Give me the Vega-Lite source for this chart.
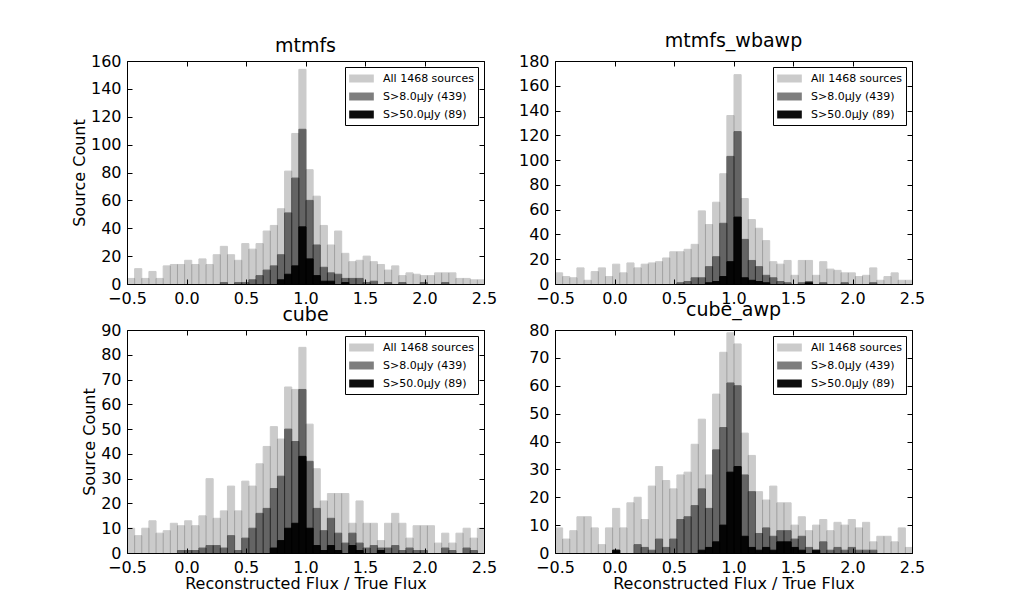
{
  "$schema": "https://vega.github.io/schema/vega-lite/v6.json",
  "background": "white",
  "padding": {"left": 70, "top": 31, "right": 5, "bottom": 5},
  "datasets": {
    "h": [
      {"p":1,"s":"a","x":-0.5,"c":4},{"p":1,"s":"a","x":-0.44,"c":11},{"p":1,"s":"a","x":-0.38,"c":4},{"p":1,"s":"a","x":-0.32,"c":9},{"p":1,"s":"a","x":-0.26,"c":4},
      {"p":1,"s":"a","x":-0.2,"c":13},{"p":1,"s":"a","x":-0.14,"c":14},{"p":1,"s":"a","x":-0.08,"c":14},{"p":1,"s":"a","x":-0.02,"c":17},{"p":1,"s":"a","x":0.04,"c":14},
      {"p":1,"s":"a","x":0.1,"c":18},{"p":1,"s":"a","x":0.16,"c":14},{"p":1,"s":"a","x":0.22,"c":21},{"p":1,"s":"a","x":0.28,"c":27},{"p":1,"s":"a","x":0.34,"c":21},
      {"p":1,"s":"a","x":0.4,"c":17},{"p":1,"s":"a","x":0.46,"c":29},{"p":1,"s":"a","x":0.52,"c":25},{"p":1,"s":"a","x":0.58,"c":29},{"p":1,"s":"a","x":0.64,"c":38},
      {"p":1,"s":"a","x":0.7,"c":42},{"p":1,"s":"a","x":0.76,"c":54},{"p":1,"s":"a","x":0.82,"c":81},{"p":1,"s":"a","x":0.88,"c":108},{"p":1,"s":"a","x":0.94,"c":154},
      {"p":1,"s":"a","x":1,"c":82},{"p":1,"s":"a","x":1.06,"c":63},{"p":1,"s":"a","x":1.12,"c":42},{"p":1,"s":"a","x":1.18,"c":28},{"p":1,"s":"a","x":1.24,"c":38},
      {"p":1,"s":"a","x":1.3,"c":22},{"p":1,"s":"a","x":1.36,"c":16},{"p":1,"s":"a","x":1.42,"c":17},{"p":1,"s":"a","x":1.48,"c":20},{"p":1,"s":"a","x":1.54,"c":16},
      {"p":1,"s":"a","x":1.6,"c":14},{"p":1,"s":"a","x":1.66,"c":10},{"p":1,"s":"a","x":1.72,"c":13},{"p":1,"s":"a","x":1.78,"c":6},{"p":1,"s":"a","x":1.84,"c":8},
      {"p":1,"s":"a","x":1.9,"c":7},{"p":1,"s":"a","x":1.96,"c":6},{"p":1,"s":"a","x":2.02,"c":6},{"p":1,"s":"a","x":2.08,"c":8},{"p":1,"s":"a","x":2.14,"c":8},
      {"p":1,"s":"a","x":2.2,"c":8},{"p":1,"s":"a","x":2.26,"c":4},{"p":1,"s":"a","x":2.32,"c":4},{"p":1,"s":"a","x":2.38,"c":3},{"p":1,"s":"a","x":2.44,"c":3},
      {"p":1,"s":"b","x":0.28,"c":1},{"p":1,"s":"b","x":0.4,"c":1},{"p":1,"s":"b","x":0.46,"c":1},{"p":1,"s":"b","x":0.52,"c":3},{"p":1,"s":"b","x":0.58,"c":6},
      {"p":1,"s":"b","x":0.64,"c":10},{"p":1,"s":"b","x":0.7,"c":13},{"p":1,"s":"b","x":0.76,"c":21},{"p":1,"s":"b","x":0.82,"c":51},{"p":1,"s":"b","x":0.88,"c":76},
      {"p":1,"s":"b","x":0.94,"c":111},{"p":1,"s":"b","x":1,"c":60},{"p":1,"s":"b","x":1.06,"c":28},{"p":1,"s":"b","x":1.12,"c":12},{"p":1,"s":"b","x":1.18,"c":8},
      {"p":1,"s":"b","x":1.24,"c":7},{"p":1,"s":"b","x":1.3,"c":4},{"p":1,"s":"b","x":1.36,"c":4},{"p":1,"s":"b","x":1.42,"c":4},{"p":1,"s":"b","x":1.48,"c":1},
      {"p":1,"s":"b","x":1.54,"c":2},{"p":1,"s":"b","x":1.66,"c":1},{"p":1,"s":"b","x":1.78,"c":1},{"p":1,"s":"b","x":1.96,"c":1},{"p":1,"s":"b","x":2.14,"c":1},
      {"p":1,"s":"c","x":0.76,"c":3},{"p":1,"s":"c","x":0.82,"c":7},{"p":1,"s":"c","x":0.88,"c":13},{"p":1,"s":"c","x":0.94,"c":41},{"p":1,"s":"c","x":1,"c":18},
      {"p":1,"s":"c","x":1.06,"c":6},{"p":1,"s":"c","x":1.12,"c":2},{"p":1,"s":"c","x":1.18,"c":2},{"p":1,"s":"c","x":1.3,"c":1},

      {"p":2,"s":"a","x":-0.5,"c":9},{"p":2,"s":"a","x":-0.44,"c":6},{"p":2,"s":"a","x":-0.38,"c":5},{"p":2,"s":"a","x":-0.32,"c":13},{"p":2,"s":"a","x":-0.26,"c":3},
      {"p":2,"s":"a","x":-0.2,"c":10},{"p":2,"s":"a","x":-0.14,"c":13},{"p":2,"s":"a","x":-0.08,"c":6},{"p":2,"s":"a","x":-0.02,"c":16},{"p":2,"s":"a","x":0.04,"c":9},
      {"p":2,"s":"a","x":0.1,"c":17},{"p":2,"s":"a","x":0.16,"c":13},{"p":2,"s":"a","x":0.22,"c":16},{"p":2,"s":"a","x":0.28,"c":17},{"p":2,"s":"a","x":0.34,"c":18},
      {"p":2,"s":"a","x":0.4,"c":21},{"p":2,"s":"a","x":0.46,"c":26},{"p":2,"s":"a","x":0.52,"c":26},{"p":2,"s":"a","x":0.58,"c":28},{"p":2,"s":"a","x":0.64,"c":32},
      {"p":2,"s":"a","x":0.7,"c":59},{"p":2,"s":"a","x":0.76,"c":48},{"p":2,"s":"a","x":0.82,"c":66},{"p":2,"s":"a","x":0.88,"c":89},{"p":2,"s":"a","x":0.94,"c":136},
      {"p":2,"s":"a","x":1,"c":169},{"p":2,"s":"a","x":1.06,"c":69},{"p":2,"s":"a","x":1.12,"c":52},{"p":2,"s":"a","x":1.18,"c":45},{"p":2,"s":"a","x":1.24,"c":35},
      {"p":2,"s":"a","x":1.3,"c":18},{"p":2,"s":"a","x":1.36,"c":16},{"p":2,"s":"a","x":1.42,"c":19},{"p":2,"s":"a","x":1.48,"c":7},{"p":2,"s":"a","x":1.54,"c":19},
      {"p":2,"s":"a","x":1.6,"c":19},{"p":2,"s":"a","x":1.66,"c":7},{"p":2,"s":"a","x":1.72,"c":18},{"p":2,"s":"a","x":1.78,"c":12},{"p":2,"s":"a","x":1.84,"c":11},
      {"p":2,"s":"a","x":1.9,"c":9},{"p":2,"s":"a","x":1.96,"c":9},{"p":2,"s":"a","x":2.02,"c":6},{"p":2,"s":"a","x":2.08,"c":7},{"p":2,"s":"a","x":2.14,"c":13},
      {"p":2,"s":"a","x":2.2,"c":3},{"p":2,"s":"a","x":2.26,"c":6},{"p":2,"s":"a","x":2.32,"c":9},{"p":2,"s":"a","x":2.38,"c":3},{"p":2,"s":"a","x":2.44,"c":3},
      {"p":2,"s":"b","x":0.52,"c":1},{"p":2,"s":"b","x":0.58,"c":2},{"p":2,"s":"b","x":0.64,"c":5},{"p":2,"s":"b","x":0.7,"c":5},{"p":2,"s":"b","x":0.76,"c":14},
      {"p":2,"s":"b","x":0.82,"c":22},{"p":2,"s":"b","x":0.88,"c":49},{"p":2,"s":"b","x":0.94,"c":103},{"p":2,"s":"b","x":1,"c":123},{"p":2,"s":"b","x":1.06,"c":36},
      {"p":2,"s":"b","x":1.12,"c":19},{"p":2,"s":"b","x":1.18,"c":14},{"p":2,"s":"b","x":1.24,"c":7},{"p":2,"s":"b","x":1.3,"c":5},{"p":2,"s":"b","x":1.36,"c":2},
      {"p":2,"s":"b","x":1.42,"c":1},{"p":2,"s":"b","x":1.54,"c":1},{"p":2,"s":"b","x":1.6,"c":2},{"p":2,"s":"b","x":1.72,"c":1},{"p":2,"s":"b","x":1.9,"c":1},
      {"p":2,"s":"b","x":2.14,"c":1},
      {"p":2,"s":"c","x":0.76,"c":1},{"p":2,"s":"c","x":0.82,"c":2},{"p":2,"s":"c","x":0.88,"c":6},{"p":2,"s":"c","x":0.94,"c":18},{"p":2,"s":"c","x":1,"c":54},
      {"p":2,"s":"c","x":1.06,"c":5},{"p":2,"s":"c","x":1.12,"c":3},{"p":2,"s":"c","x":1.18,"c":2},{"p":2,"s":"c","x":1.24,"c":1},{"p":2,"s":"c","x":1.6,"c":1},

      {"p":3,"s":"a","x":-0.5,"c":10},{"p":3,"s":"a","x":-0.44,"c":7},{"p":3,"s":"a","x":-0.38,"c":10},{"p":3,"s":"a","x":-0.32,"c":13},{"p":3,"s":"a","x":-0.26,"c":8},
      {"p":3,"s":"a","x":-0.2,"c":9},{"p":3,"s":"a","x":-0.14,"c":12},{"p":3,"s":"a","x":-0.08,"c":11},{"p":3,"s":"a","x":-0.02,"c":13},{"p":3,"s":"a","x":0.04,"c":11},
      {"p":3,"s":"a","x":0.1,"c":15},{"p":3,"s":"a","x":0.16,"c":30},{"p":3,"s":"a","x":0.22,"c":14},{"p":3,"s":"a","x":0.28,"c":17},{"p":3,"s":"a","x":0.34,"c":27},
      {"p":3,"s":"a","x":0.4,"c":17},{"p":3,"s":"a","x":0.46,"c":29},{"p":3,"s":"a","x":0.52,"c":27},{"p":3,"s":"a","x":0.58,"c":36},{"p":3,"s":"a","x":0.64,"c":43},
      {"p":3,"s":"a","x":0.7,"c":51},{"p":3,"s":"a","x":0.76,"c":46},{"p":3,"s":"a","x":0.82,"c":67},{"p":3,"s":"a","x":0.88,"c":66},{"p":3,"s":"a","x":0.94,"c":83},
      {"p":3,"s":"a","x":1,"c":52},{"p":3,"s":"a","x":1.06,"c":34},{"p":3,"s":"a","x":1.12,"c":21},{"p":3,"s":"a","x":1.18,"c":24},{"p":3,"s":"a","x":1.24,"c":24},
      {"p":3,"s":"a","x":1.3,"c":24},{"p":3,"s":"a","x":1.36,"c":12},{"p":3,"s":"a","x":1.42,"c":21},{"p":3,"s":"a","x":1.48,"c":12},{"p":3,"s":"a","x":1.54,"c":12},
      {"p":3,"s":"a","x":1.6,"c":5},{"p":3,"s":"a","x":1.66,"c":12},{"p":3,"s":"a","x":1.72,"c":16},{"p":3,"s":"a","x":1.78,"c":12},{"p":3,"s":"a","x":1.84,"c":6},
      {"p":3,"s":"a","x":1.9,"c":11},{"p":3,"s":"a","x":1.96,"c":11},{"p":3,"s":"a","x":2.02,"c":11},{"p":3,"s":"a","x":2.08,"c":4},{"p":3,"s":"a","x":2.14,"c":8},
      {"p":3,"s":"a","x":2.2,"c":4},{"p":3,"s":"a","x":2.26,"c":8},{"p":3,"s":"a","x":2.32,"c":10},{"p":3,"s":"a","x":2.38,"c":6},{"p":3,"s":"a","x":2.44,"c":10},
      {"p":3,"s":"b","x":-0.08,"c":1},{"p":3,"s":"b","x":-0.02,"c":1},{"p":3,"s":"b","x":0.04,"c":1},{"p":3,"s":"b","x":0.1,"c":2},{"p":3,"s":"b","x":0.16,"c":3},
      {"p":3,"s":"b","x":0.22,"c":3},{"p":3,"s":"b","x":0.28,"c":2},{"p":3,"s":"b","x":0.34,"c":7},{"p":3,"s":"b","x":0.4,"c":1},{"p":3,"s":"b","x":0.46,"c":6},
      {"p":3,"s":"b","x":0.52,"c":10},{"p":3,"s":"b","x":0.58,"c":16},{"p":3,"s":"b","x":0.64,"c":18},{"p":3,"s":"b","x":0.7,"c":26},{"p":3,"s":"b","x":0.76,"c":31},
      {"p":3,"s":"b","x":0.82,"c":50},{"p":3,"s":"b","x":0.88,"c":45},{"p":3,"s":"b","x":0.94,"c":66},{"p":3,"s":"b","x":1,"c":37},{"p":3,"s":"b","x":1.06,"c":18},
      {"p":3,"s":"b","x":1.12,"c":9},{"p":3,"s":"b","x":1.18,"c":14},{"p":3,"s":"b","x":1.24,"c":8},{"p":3,"s":"b","x":1.3,"c":4},{"p":3,"s":"b","x":1.36,"c":8},
      {"p":3,"s":"b","x":1.42,"c":4},{"p":3,"s":"b","x":1.48,"c":2},{"p":3,"s":"b","x":1.54,"c":3},{"p":3,"s":"b","x":1.6,"c":2},{"p":3,"s":"b","x":1.66,"c":2},
      {"p":3,"s":"b","x":1.72,"c":3},{"p":3,"s":"b","x":1.78,"c":1},{"p":3,"s":"b","x":1.84,"c":2},{"p":3,"s":"b","x":1.9,"c":1},{"p":3,"s":"b","x":1.96,"c":1},
      {"p":3,"s":"b","x":2.14,"c":2},{"p":3,"s":"b","x":2.2,"c":1},{"p":3,"s":"b","x":2.32,"c":2},{"p":3,"s":"b","x":2.38,"c":1},
      {"p":3,"s":"c","x":0.7,"c":2},{"p":3,"s":"c","x":0.76,"c":5},{"p":3,"s":"c","x":0.82,"c":10},{"p":3,"s":"c","x":0.88,"c":12},{"p":3,"s":"c","x":0.94,"c":39},
      {"p":3,"s":"c","x":1,"c":10},{"p":3,"s":"c","x":1.06,"c":3},{"p":3,"s":"c","x":1.12,"c":1},{"p":3,"s":"c","x":1.18,"c":3},{"p":3,"s":"c","x":1.24,"c":1},
      {"p":3,"s":"c","x":1.36,"c":3},{"p":3,"s":"c","x":1.42,"c":1},{"p":3,"s":"c","x":1.6,"c":1},

      {"p":4,"s":"a","x":-0.5,"c":9},{"p":4,"s":"a","x":-0.44,"c":5},{"p":4,"s":"a","x":-0.38,"c":8},{"p":4,"s":"a","x":-0.32,"c":13},{"p":4,"s":"a","x":-0.26,"c":13},
      {"p":4,"s":"a","x":-0.2,"c":9},{"p":4,"s":"a","x":-0.14,"c":3},{"p":4,"s":"a","x":-0.08,"c":9},{"p":4,"s":"a","x":-0.02,"c":16},{"p":4,"s":"a","x":0.04,"c":9},
      {"p":4,"s":"a","x":0.1,"c":18},{"p":4,"s":"a","x":0.16,"c":20},{"p":4,"s":"a","x":0.22,"c":12},{"p":4,"s":"a","x":0.28,"c":24},{"p":4,"s":"a","x":0.34,"c":31},
      {"p":4,"s":"a","x":0.4,"c":26},{"p":4,"s":"a","x":0.46,"c":23},{"p":4,"s":"a","x":0.52,"c":28},{"p":4,"s":"a","x":0.58,"c":29},{"p":4,"s":"a","x":0.64,"c":39},
      {"p":4,"s":"a","x":0.7,"c":48},{"p":4,"s":"a","x":0.76,"c":28},{"p":4,"s":"a","x":0.82,"c":57},{"p":4,"s":"a","x":0.88,"c":72},{"p":4,"s":"a","x":0.94,"c":79},
      {"p":4,"s":"a","x":1,"c":75},{"p":4,"s":"a","x":1.06,"c":43},{"p":4,"s":"a","x":1.12,"c":35},{"p":4,"s":"a","x":1.18,"c":22},{"p":4,"s":"a","x":1.24,"c":19},
      {"p":4,"s":"a","x":1.3,"c":24},{"p":4,"s":"a","x":1.36,"c":18},{"p":4,"s":"a","x":1.42,"c":18},{"p":4,"s":"a","x":1.48,"c":10},{"p":4,"s":"a","x":1.54,"c":13},
      {"p":4,"s":"a","x":1.6,"c":8},{"p":4,"s":"a","x":1.66,"c":10},{"p":4,"s":"a","x":1.72,"c":12},{"p":4,"s":"a","x":1.78,"c":8},{"p":4,"s":"a","x":1.84,"c":11},
      {"p":4,"s":"a","x":1.9,"c":10},{"p":4,"s":"a","x":1.96,"c":12},{"p":4,"s":"a","x":2.02,"c":9},{"p":4,"s":"a","x":2.08,"c":11},{"p":4,"s":"a","x":2.14,"c":4},
      {"p":4,"s":"a","x":2.2,"c":6},{"p":4,"s":"a","x":2.26,"c":6},{"p":4,"s":"a","x":2.32,"c":4},{"p":4,"s":"a","x":2.38,"c":9},{"p":4,"s":"a","x":2.44,"c":2},
      {"p":4,"s":"b","x":-0.02,"c":1},{"p":4,"s":"b","x":0.16,"c":3},{"p":4,"s":"b","x":0.22,"c":2},{"p":4,"s":"b","x":0.28,"c":1},{"p":4,"s":"b","x":0.34,"c":5},
      {"p":4,"s":"b","x":0.4,"c":2},{"p":4,"s":"b","x":0.46,"c":5},{"p":4,"s":"b","x":0.52,"c":12},{"p":4,"s":"b","x":0.58,"c":13},{"p":4,"s":"b","x":0.64,"c":17},
      {"p":4,"s":"b","x":0.7,"c":23},{"p":4,"s":"b","x":0.76,"c":16},{"p":4,"s":"b","x":0.82,"c":37},{"p":4,"s":"b","x":0.88,"c":45},{"p":4,"s":"b","x":0.94,"c":61},
      {"p":4,"s":"b","x":1,"c":60},{"p":4,"s":"b","x":1.06,"c":28},{"p":4,"s":"b","x":1.12,"c":22},{"p":4,"s":"b","x":1.18,"c":7},{"p":4,"s":"b","x":1.24,"c":9},
      {"p":4,"s":"b","x":1.3,"c":6},{"p":4,"s":"b","x":1.36,"c":8},{"p":4,"s":"b","x":1.42,"c":8},{"p":4,"s":"b","x":1.48,"c":5},{"p":4,"s":"b","x":1.54,"c":6},
      {"p":4,"s":"b","x":1.6,"c":2},{"p":4,"s":"b","x":1.66,"c":1},{"p":4,"s":"b","x":1.72,"c":4},{"p":4,"s":"b","x":1.78,"c":1},{"p":4,"s":"b","x":1.84,"c":2},
      {"p":4,"s":"b","x":1.9,"c":1},{"p":4,"s":"b","x":1.96,"c":2},{"p":4,"s":"b","x":2.02,"c":1},{"p":4,"s":"b","x":2.08,"c":1},{"p":4,"s":"b","x":2.14,"c":1},
      {"p":4,"s":"c","x":-0.02,"c":1},{"p":4,"s":"c","x":0.7,"c":1},{"p":4,"s":"c","x":0.76,"c":2},{"p":4,"s":"c","x":0.82,"c":4},{"p":4,"s":"c","x":0.88,"c":10},
      {"p":4,"s":"c","x":0.94,"c":29},{"p":4,"s":"c","x":1,"c":31},{"p":4,"s":"c","x":1.06,"c":6},{"p":4,"s":"c","x":1.12,"c":2},{"p":4,"s":"c","x":1.18,"c":1},
      {"p":4,"s":"c","x":1.24,"c":2},{"p":4,"s":"c","x":1.3,"c":1},{"p":4,"s":"c","x":1.36,"c":4},{"p":4,"s":"c","x":1.42,"c":4},{"p":4,"s":"c","x":1.48,"c":2},
      {"p":4,"s":"c","x":1.54,"c":1},{"p":4,"s":"c","x":1.66,"c":1}
    ]
  },
  "columns": 2,
  "spacing": {"row": 46, "column": 71},
  "bounds": "flush",
  "concat": [
    {
      "title": {"text": "mtmfs"},
      "width": 357,
      "height": 223,
      "data": {"name": "h"},
      "transform": [{"filter": "datum.p == 1"}],
      "layer": [
        {
          "mark": {"type": "bar", "stroke": "black", "strokeWidth": 1, "binSpacing": 0},
          "encoding": {
            "x": {"field": "x", "type": "quantitative", "bin": {"binned": true, "step": 0.06}, "scale": {"domain": [-0.5, 2.5], "nice": false, "zero": false}, "axis": {"values": [-0.5, 0, 0.5, 1, 1.5, 2, 2.5], "format": ".1f", "title": null}},
            "y": {"field": "c", "type": "quantitative", "stack": null, "scale": {"domain": [0, 160], "nice": false}, "axis": {"values": [0, 20, 40, 60, 80, 100, 120, 140, 160], "title": "Source Count"}},
            "color": {"field": "s", "type": "nominal", "scale": {"domain": ["a", "b", "c"], "range": ["black", "black", "black"]}, "legend": {"title": null, "labelExpr": "datum.label == 'a' ? 'All 1468 sources' : datum.label == 'b' ? 'S>8.0μJy (439)' : 'S>50.0μJy (89)'"}},
            "opacity": {"field": "s", "type": "nominal", "scale": {"type": "ordinal", "domain": ["a", "b", "c"], "range": [0.2, 0.5, 0.95]}, "legend": {"title": null, "labelExpr": "datum.label == 'a' ? 'All 1468 sources' : datum.label == 'b' ? 'S>8.0μJy (439)' : 'S>50.0μJy (89)'"}}
          }
        },
        {
          "mark": {"type": "bar", "opacity": 0, "binSpacing": 0},
          "encoding": {
            "x": {"field": "x", "type": "quantitative", "bin": {"binned": true, "step": 0.06}, "scale": {"domain": [-0.5, 2.5], "nice": false, "zero": false}, "axis": {"orient": "top", "labels": false, "title": null, "values": [-0.5, 0, 0.5, 1, 1.5, 2, 2.5]}},
            "y": {"field": "c", "type": "quantitative", "stack": null, "scale": {"domain": [0, 160], "nice": false}, "axis": {"orient": "right", "labels": false, "title": null, "values": [0, 20, 40, 60, 80, 100, 120, 140, 160]}}
          }
        }
      ],
      "resolve": {"axis": {"x": "independent", "y": "independent"}}
    },
    {
      "title": {"text": "mtmfs_wbawp", "dy": -5},
      "width": 357,
      "height": 223,
      "data": {"name": "h"},
      "transform": [{"filter": "datum.p == 2"}],
      "layer": [
        {
          "mark": {"type": "bar", "stroke": "black", "strokeWidth": 1, "binSpacing": 0},
          "encoding": {
            "x": {"field": "x", "type": "quantitative", "bin": {"binned": true, "step": 0.06}, "scale": {"domain": [-0.5, 2.5], "nice": false, "zero": false}, "axis": {"values": [-0.5, 0, 0.5, 1, 1.5, 2, 2.5], "format": ".1f", "title": null}},
            "y": {"field": "c", "type": "quantitative", "stack": null, "scale": {"domain": [0, 180], "nice": false}, "axis": {"values": [0, 20, 40, 60, 80, 100, 120, 140, 160, 180], "title": null}},
            "color": {"field": "s", "type": "nominal", "scale": {"domain": ["a", "b", "c"], "range": ["black", "black", "black"]}, "legend": {"title": null, "labelExpr": "datum.label == 'a' ? 'All 1468 sources' : datum.label == 'b' ? 'S>8.0μJy (439)' : 'S>50.0μJy (89)'"}},
            "opacity": {"field": "s", "type": "nominal", "scale": {"type": "ordinal", "domain": ["a", "b", "c"], "range": [0.2, 0.5, 0.95]}, "legend": {"title": null, "labelExpr": "datum.label == 'a' ? 'All 1468 sources' : datum.label == 'b' ? 'S>8.0μJy (439)' : 'S>50.0μJy (89)'"}}
          }
        },
        {
          "mark": {"type": "bar", "opacity": 0, "binSpacing": 0},
          "encoding": {
            "x": {"field": "x", "type": "quantitative", "bin": {"binned": true, "step": 0.06}, "scale": {"domain": [-0.5, 2.5], "nice": false, "zero": false}, "axis": {"orient": "top", "labels": false, "title": null, "values": [-0.5, 0, 0.5, 1, 1.5, 2, 2.5]}},
            "y": {"field": "c", "type": "quantitative", "stack": null, "scale": {"domain": [0, 180], "nice": false}, "axis": {"orient": "right", "labels": false, "title": null, "values": [0, 20, 40, 60, 80, 100, 120, 140, 160, 180]}}
          }
        }
      ],
      "resolve": {"axis": {"x": "independent", "y": "independent"}}
    },
    {
      "title": {"text": "cube"},
      "width": 357,
      "height": 223,
      "data": {"name": "h"},
      "transform": [{"filter": "datum.p == 3"}],
      "layer": [
        {
          "mark": {"type": "bar", "stroke": "black", "strokeWidth": 1, "binSpacing": 0},
          "encoding": {
            "x": {"field": "x", "type": "quantitative", "bin": {"binned": true, "step": 0.06}, "scale": {"domain": [-0.5, 2.5], "nice": false, "zero": false}, "axis": {"values": [-0.5, 0, 0.5, 1, 1.5, 2, 2.5], "format": ".1f", "title": "Reconstructed Flux / True Flux"}},
            "y": {"field": "c", "type": "quantitative", "stack": null, "scale": {"domain": [0, 90], "nice": false}, "axis": {"values": [0, 10, 20, 30, 40, 50, 60, 70, 80, 90], "title": "Source Count"}},
            "color": {"field": "s", "type": "nominal", "scale": {"domain": ["a", "b", "c"], "range": ["black", "black", "black"]}, "legend": {"title": null, "labelExpr": "datum.label == 'a' ? 'All 1468 sources' : datum.label == 'b' ? 'S>8.0μJy (439)' : 'S>50.0μJy (89)'"}},
            "opacity": {"field": "s", "type": "nominal", "scale": {"type": "ordinal", "domain": ["a", "b", "c"], "range": [0.2, 0.5, 0.95]}, "legend": {"title": null, "labelExpr": "datum.label == 'a' ? 'All 1468 sources' : datum.label == 'b' ? 'S>8.0μJy (439)' : 'S>50.0μJy (89)'"}}
          }
        },
        {
          "mark": {"type": "bar", "opacity": 0, "binSpacing": 0},
          "encoding": {
            "x": {"field": "x", "type": "quantitative", "bin": {"binned": true, "step": 0.06}, "scale": {"domain": [-0.5, 2.5], "nice": false, "zero": false}, "axis": {"orient": "top", "labels": false, "title": null, "values": [-0.5, 0, 0.5, 1, 1.5, 2, 2.5]}},
            "y": {"field": "c", "type": "quantitative", "stack": null, "scale": {"domain": [0, 90], "nice": false}, "axis": {"orient": "right", "labels": false, "title": null, "values": [0, 10, 20, 30, 40, 50, 60, 70, 80, 90]}}
          }
        }
      ],
      "resolve": {"axis": {"x": "independent", "y": "independent"}}
    },
    {
      "title": {"text": "cube_awp", "dy": -5},
      "width": 357,
      "height": 223,
      "data": {"name": "h"},
      "transform": [{"filter": "datum.p == 4"}],
      "layer": [
        {
          "mark": {"type": "bar", "stroke": "black", "strokeWidth": 1, "binSpacing": 0},
          "encoding": {
            "x": {"field": "x", "type": "quantitative", "bin": {"binned": true, "step": 0.06}, "scale": {"domain": [-0.5, 2.5], "nice": false, "zero": false}, "axis": {"values": [-0.5, 0, 0.5, 1, 1.5, 2, 2.5], "format": ".1f", "title": "Reconstructed Flux / True Flux"}},
            "y": {"field": "c", "type": "quantitative", "stack": null, "scale": {"domain": [0, 80], "nice": false}, "axis": {"values": [0, 10, 20, 30, 40, 50, 60, 70, 80], "title": null}},
            "color": {"field": "s", "type": "nominal", "scale": {"domain": ["a", "b", "c"], "range": ["black", "black", "black"]}, "legend": {"title": null, "labelExpr": "datum.label == 'a' ? 'All 1468 sources' : datum.label == 'b' ? 'S>8.0μJy (439)' : 'S>50.0μJy (89)'"}},
            "opacity": {"field": "s", "type": "nominal", "scale": {"type": "ordinal", "domain": ["a", "b", "c"], "range": [0.2, 0.5, 0.95]}, "legend": {"title": null, "labelExpr": "datum.label == 'a' ? 'All 1468 sources' : datum.label == 'b' ? 'S>8.0μJy (439)' : 'S>50.0μJy (89)'"}}
          }
        },
        {
          "mark": {"type": "bar", "opacity": 0, "binSpacing": 0},
          "encoding": {
            "x": {"field": "x", "type": "quantitative", "bin": {"binned": true, "step": 0.06}, "scale": {"domain": [-0.5, 2.5], "nice": false, "zero": false}, "axis": {"orient": "top", "labels": false, "title": null, "values": [-0.5, 0, 0.5, 1, 1.5, 2, 2.5]}},
            "y": {"field": "c", "type": "quantitative", "stack": null, "scale": {"domain": [0, 80], "nice": false}, "axis": {"orient": "right", "labels": false, "title": null, "values": [0, 10, 20, 30, 40, 50, 60, 70, 80]}}
          }
        }
      ],
      "resolve": {"axis": {"x": "independent", "y": "independent"}}
    }
  ],
  "resolve": {
    "scale": {"x": "independent", "y": "independent", "color": "independent", "opacity": "independent"},
    "legend": {"color": "independent", "opacity": "independent"}
  },
  "config": {
    "font": "DejaVu Sans",
    "view": {"stroke": "black", "strokeWidth": 1},
    "axis": {
      "domain": false,
      "grid": false,
      "ticks": true,
      "tickColor": "black",
      "tickSize": -5,
      "tickWidth": 1,
      "labelFont": "DejaVu Sans",
      "labelFontSize": 16,
      "labelColor": "black",
      "labelFlush": false,
      "labelOverlap": false,
      "titleFont": "DejaVu Sans",
      "titleFontSize": 16,
      "titleFontWeight": "normal",
      "titleColor": "black"
    },
    "axisX": {"labelPadding": 11, "titlePadding": 0},
    "axisY": {"labelPadding": 11, "titlePadding": 3},
    "title": {"font": "DejaVu Sans", "fontSize": 19, "fontWeight": "normal", "color": "black", "anchor": "middle", "offset": -3, "baseline": "alphabetic"},
    "legend": {
      "orient": "top-right",
      "offset": 6,
      "padding": 4,
      "strokeColor": "black",
      "fillColor": "white",
      "symbolType": "M-1.76,-0.57H1.76V0.57H-1.76Z",
      "symbolSize": 196,
      "symbolStrokeColor": "black",
      "symbolStrokeWidth": 1,
      "symbolOffset": 5,
      "labelOffset": 14,
      "labelFont": "DejaVu Sans",
      "labelFontSize": 11,
      "labelColor": "black",
      "rowPadding": 4
    }
  }
}
